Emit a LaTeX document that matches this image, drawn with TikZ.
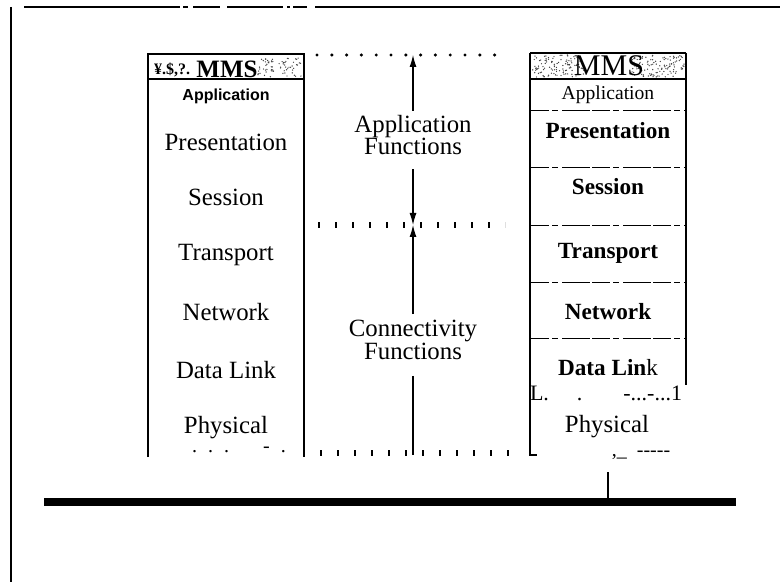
\documentclass[tikz,border=0pt]{standalone}
\usepackage{fontspec}
\setmainfont{Liberation Serif}[Ligatures=NoCommon]
\newfontfamily\labelsans{Liberation Sans}
\usetikzlibrary{arrows.meta}

\begin{document}
\begin{tikzpicture}[x=0.5pt,y=-0.5pt,
  frameline/.style={line width=1pt},
  stackedge/.style={line width=1pt},
  thinedge/.style={line width=0.55pt},
  divider/.style={line width=0.45pt, dash pattern=on 9pt off 1.5pt on 3pt off 2pt on 14pt off 1pt},
  layer/.style={font=\fontsize{12.4}{14}\selectfont, inner sep=0pt},
  boldlayer/.style={font=\fontsize{11.6}{14}\selectfont\bfseries, inner sep=0pt},
  fnlabel/.style={font=\fontsize{12.4}{11.2}\selectfont, align=center, inner sep=0pt},
  fnarrow/.style={line width=0.55pt, -{Latex[length=6pt,width=3.5pt]}},
  dotrow/.style={line width=1.7pt, line cap=round, dash pattern=on 0pt off 7.4pt},
  tickrow/.style={line width=2.6pt, dash pattern=on 0.9pt off 7.6pt},
  speck/.style={fill=black!75},
]
\useasboundingbox (0,0) rectangle (780,582);

% ---- outer frame ----
\draw[line width=0.7pt, dash pattern=on 78pt off 1.5pt on 2.5pt off 2.5pt on 13.5pt off 3.5pt on 28pt off 2pt on 1.5pt off 1.5pt on 7pt off 4pt]
  (24,7) -- (308,7);
\draw[frameline] (315,7) -- (780,7);
\draw[frameline] (11,7) -- (11,582);

% ---- left stack ----
\draw[stackedge] (148,457) -- (148,54) -- (304,54) -- (304,457);
\draw[stackedge] (148,79) -- (304,79);
\pgfmathsetseed{11}
\foreach \k in {1,...,70}{
  \pgfmathsetmacro{\sx}{258+44*rnd}
  \pgfmathsetmacro{\sy}{58+19*rnd}
  \fill[speck] (\sx,\sy) circle (0.35pt);
}
\node[inner sep=0pt, font=\fontsize{8}{9}\selectfont\bfseries] (lnoise) at (172,70) {¥.\$,?.};
\node[inner sep=0pt, font=\fontsize{12.5}{14}\selectfont\bfseries] (lhdr) at (227,69) {MMS};
\node[inner sep=0pt, font=\labelsans\bfseries\fontsize{8}{9}\selectfont] (lapp) at (226,96) {Application};
\node[layer] (lpres)  at (226,142) {Presentation};
\node[layer] (lsess)  at (226,197) {Session};
\node[layer] (ltrans) at (226,255) {Transport};
\node[layer] (lnet)   at (226,312) {Network};
\node[layer] (llink)  at (226,370) {Data Link};
\node[layer] (lphys)  at (226,428) {Physical};
\node[inner sep=0pt, font=\fontsize{10}{12}\selectfont] (lbase) at (239,450)
  {\makebox[47pt][s]{.\hfill.\hfill.\hspace{17pt}-\hfill.}};

% ---- middle: function groups ----
\coordinate (rowA) at (413,55);
\coordinate (rowB) at (413,225);
\coordinate (rowC) at (413,455);
\draw[dotrow] (317,55) -- (509,55);
\draw[tickrow] (318,225) -- (505,225);
\draw[tickrow] (320,453) -- (509,453);

\node[fnlabel] (appfn) at (413,135) {Application\\Functions};
\node[fnlabel] (confn) at (413,340) {Connectivity\\Functions};
\draw[fnarrow, shorten <=2pt] (appfn.north) -- (rowA);
\draw[fnarrow, shorten <=7pt] (appfn.south) -- (rowB);
\draw[fnarrow, shorten <=3pt] (confn.north) -- (rowB);
\draw[line width=1pt, shorten <=8pt] (confn.south) -- (rowC);

% ---- right stack ----
\draw[thinedge] (530,53) -- (686,53);
\draw[thinedge] (530,53) -- (530,455) -- (537,455);
\draw[thinedge] (686,53) -- (686,385);
\draw[thinedge] (530,79) -- (686,79);
\foreach \yy in {110,167,225,282,338}{
  \draw[divider] (531,\yy) -- (686,\yy);
}
\pgfmathsetseed{5}
\foreach \k in {1,...,110}{
  \pgfmathsetmacro{\sx}{532+52*rnd}
  \pgfmathsetmacro{\sy}{55+22*rnd}
  \fill[speck] (\sx,\sy) circle (0.35pt);
}
\foreach \k in {1,...,120}{
  \pgfmathsetmacro{\sx}{632+53*rnd}
  \pgfmathsetmacro{\sy}{55+22*rnd}
  \fill[speck] (\sx,\sy) circle (0.35pt);
}
\node[inner sep=0pt, font=\fontsize{15}{16}\selectfont] (rhdr) at (609,66) {MMS};
\node[inner sep=0pt, font=\fontsize{9.8}{11}\selectfont] (rapp) at (608,95) {Application};
\node[boldlayer] (rpres)  at (608,131) {Presentation};
\node[boldlayer] (rsess)  at (608,187) {Session};
\node[boldlayer] (rtrans) at (608,253) {Transport};
\node[boldlayer] (rnet)   at (608,312) {Network};
\node[inner sep=0pt, font=\fontsize{11.6}{14}\selectfont] (rlink) at (608,368) {\textbf{Data Lin}k};
\node[inner sep=0pt, font=\fontsize{11}{12}\selectfont] (rlinkedge) at (606,393)
  {\makebox[76pt][s]{L.\hspace{14pt}.\hfill-...-...1}};
\node[layer] (rphys) at (607,427) {Physical};
\node[inner sep=0pt, font=\fontsize{10}{11}\selectfont] (rphysedge) at (641,455)
  {,\_\hspace{5pt}{-}{-}{-}{-}{-}};

% ---- bus ----
\node[fill=black, minimum width=346pt, minimum height=4pt, inner sep=0pt] (bus) at (390,502) {};
\coordinate (tap) at (608,472);
\draw[line width=0.6pt] (tap) -- (tap |- bus.north);
\end{tikzpicture}
\end{document}
